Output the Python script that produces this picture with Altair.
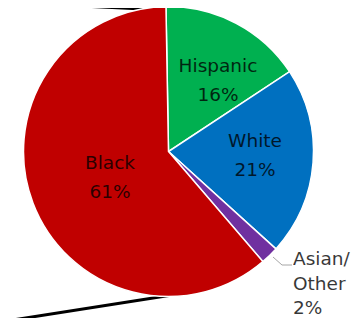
import math
import altair as alt
import pandas as pd

# ---- data ----
groups = ["Hispanic", "White", "Asian/Other", "Black"]
shares = [16, 21, 2, 61]
colors = ["#00B050", "#0070C0", "#7030A0", "#C00000"]
labels = ["Hispanic\n16%", "White\n21%", "Asian/\nOther\n2%", "Black\n61%"]

# connector lines of the pie-of-pie (page pixel coordinates)
conn_x = [0, 163, 0, 185]
conn_y = [2, 10, 322, 293]
conn_g = ["top", "top", "bottom", "bottom"]

# leader line for the small slice
lead_x = [273, 282, 292]
lead_y = [257, 265, 265]

# ---- layout ----
W, H = 345, 310          # svg area inside the 8px page margin
OFF = 8
CX, CY, R = 168.5, 151.5, 145
START = math.radians(-1)

# (x, first baseline, align, line height)
label_pos = {
    "Hispanic": (218, 72, "center", 28.5),
    "White": (255, 147, "center", 28.5),
    "Black": (110, 169, "center", 28.5),
    "Asian/Other": (293, 265, "left", 24.5),
}

xs = alt.Scale(domain=[OFF, OFF + W], range=[0, W], nice=False, zero=False)
ys = alt.Scale(domain=[OFF, OFF + H], range=[0, H], nice=False, zero=False)

pie_df = pd.DataFrame({"group": groups, "share": shares, "idx": range(len(groups))})

pie = alt.Chart(pie_df).mark_arc(outerRadius=R, stroke="white", strokeWidth=1.5).encode(
    theta=alt.Theta("share:Q", stack=True,
                    scale=alt.Scale(range=[START, START + 2 * math.pi])),
    color=alt.Color("group:N", scale=alt.Scale(domain=groups, range=colors), legend=None),
    order=alt.Order("idx:Q"),
    x=alt.value(CX - OFF),
    y=alt.value(CY - OFF),
)

conn_df = pd.DataFrame({"x": conn_x, "y": conn_y, "g": conn_g})
conn = alt.Chart(conn_df).mark_line(color="black", strokeWidth=3, clip=False).encode(
    x=alt.X("x:Q", scale=xs, axis=None),
    y=alt.Y("y:Q", scale=ys, axis=None),
    detail="g:N",
)

lead_df = pd.DataFrame({"x": lead_x, "y": lead_y, "o": range(len(lead_x))})
lead = alt.Chart(lead_df).mark_line(color="#A6A6A6", strokeWidth=1).encode(
    x=alt.X("x:Q", scale=xs, axis=None),
    y=alt.Y("y:Q", scale=ys, axis=None),
    order="o:Q",
)

text_layers = []
for g, lab in zip(groups, labels):
    lx, ly, al, lh = label_pos[g]
    tdf = pd.DataFrame({"x": [lx], "y": [ly], "t": [lab]})
    text_layers.append(
        alt.Chart(tdf).mark_text(
            font="DejaVu Sans", fontSize=18.5, align=al, baseline="alphabetic",
            lineBreak="\n", lineHeight=lh, color="black", opacity=0.78,
        ).encode(
            x=alt.X("x:Q", scale=xs, axis=None),
            y=alt.Y("y:Q", scale=ys, axis=None),
            text="t:N",
        )
    )

chart = alt.layer(conn, pie, lead, *text_layers).properties(
    width=W, height=H, padding=0, autosize="none"
).configure_view(strokeWidth=0)

chart.save("out.html", embed_options={"renderer": "svg", "actions": False})
